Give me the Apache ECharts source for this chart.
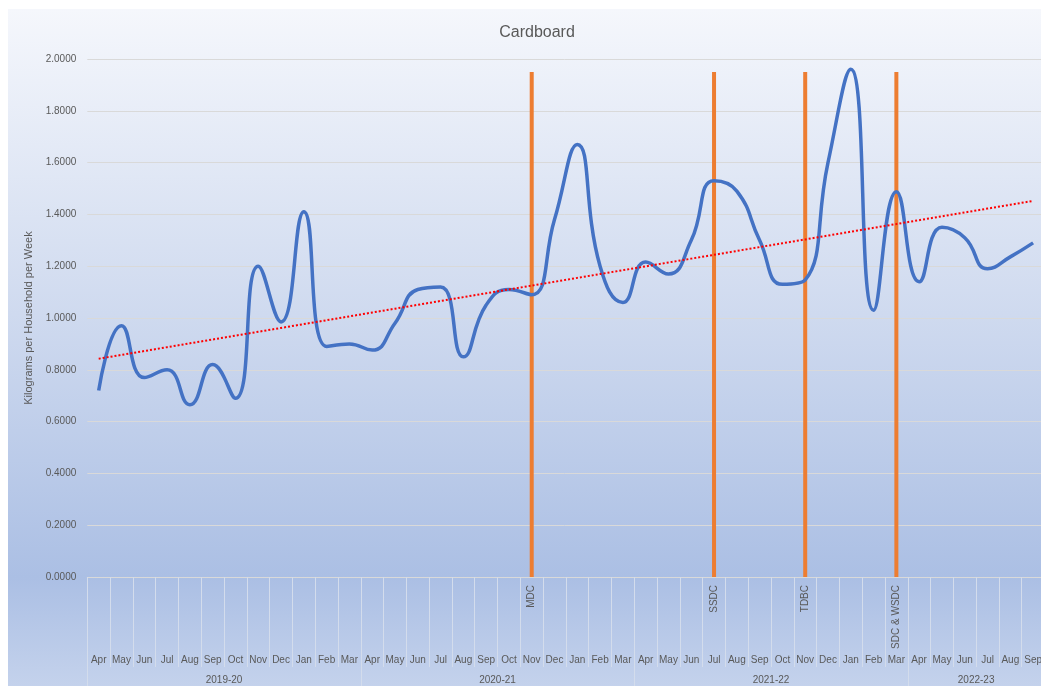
<!DOCTYPE html>
<html>
<head>
<meta charset="utf-8">
<script src="https://cdn.jsdelivr.net/npm/echarts@6/dist/echarts.min.js"></script>
<style>
  html, body { margin: 0; padding: 0; background: #fff; }
  #chart { width: 1041px; height: 686px; }
</style>
</head>
<body>
<div id="chart"></div>
<script>
// month labels, grouped by financial year
const years = ["2019-20", "2020-21", "2021-22", "2022-23"];
const monthsPerYear = [12, 12, 12, 6];
const months = [
  "Apr", "May", "Jun", "Jul", "Aug", "Sep", "Oct", "Nov", "Dec", "Jan", "Feb", "Mar",
  "Apr", "May", "Jun", "Jul", "Aug", "Sep", "Oct", "Nov", "Dec", "Jan", "Feb", "Mar",
  "Apr", "May", "Jun", "Jul", "Aug", "Sep", "Oct", "Nov", "Dec", "Jan", "Feb", "Mar",
  "Apr", "May", "Jun", "Jul", "Aug", "Sep"
];
// kg per household per week
const cardboard = [
  0.72, 0.97, 0.77, 0.80, 0.665, 0.82, 0.69, 1.20, 0.985, 1.41, 0.89, 0.90,
  0.876, 0.98, 1.11, 1.12, 0.85, 1.05, 1.11, 1.09, 1.38, 1.67, 1.20, 1.06,
  1.216, 1.17, 1.30, 1.53, 1.49, 1.30, 1.13, 1.147, 1.60, 1.96, 1.03, 1.487,
  1.14, 1.35, 1.31, 1.19, 1.236, 1.29
];
// council changes (marker bars)
const eventIndex = [19, 27, 31, 35];
const eventNames = ["MDC", "SSDC", "TDBC", "SDC & WSDC"];
const eventHeight = 1.95;

// build helpers
const cats = months.map((m, i) => i + "");
const eventLabels = months.map(() => "");
const eventBars = months.map(() => null);
eventIndex.forEach((idx, k) => {
  eventLabels[idx] = eventNames[k];
  eventBars[idx] = eventHeight;
});

// year boundaries / label slots (boundaryGap false axis, 43 slots)
const yearStart = [];
const yearMid = {};
let acc = 0;
monthsPerYear.forEach((n, k) => {
  yearStart.push(acc);
  yearMid[acc + n / 2] = years[k];
  acc += n;
});
yearStart.push(acc);
const yearSlots = [];
for (let i = 0; i <= months.length; i++) yearSlots.push("s" + i);

// least squares trend line
function trendOf(arr) {
  const n = arr.length;
  let sx = 0, sy = 0, sxx = 0, sxy = 0;
  arr.forEach((y, x) => { sx += x; sy += y; sxx += x * x; sxy += x * y; });
  const b = (n * sxy - sx * sy) / (n * sxx - sx * sx);
  const a = (sy - b * sx) / n;
  return arr.map((y, x) => +(a + b * x).toFixed(4));
}
const trend = trendOf(cardboard);

const txt = "#595959";
const lineCol = "#d9d9d9";
const sepCol = "#d3dcec";
const font = "'Liberation Sans', Arial, sans-serif";

const chart = echarts.init(document.getElementById("chart"));
chart.setOption({
  backgroundColor: "#fff",
  animation: false,
  textStyle: { fontFamily: font },
  graphic: [{
    type: "rect",
    left: 8, top: 9, z: -10,
    shape: { width: 1033, height: 677 },
    style: {
      fill: new echarts.graphic.LinearGradient(0, 0, 0, 1, [
        { offset: 0, color: "#f5f7fc" },
        { offset: 0.45, color: "#cfdaef" },
        { offset: 0.84, color: "#abbfe4" },
        { offset: 1, color: "#c4d2ec" }
      ])
    }
  }],
  title: {
    text: "Cardboard",
    left: 532, top: 20, textAlign: "center",
    textStyle: { fontSize: 16, fontWeight: "normal", color: txt, fontFamily: font }
  },
  grid: {
    left: 87.3, top: 59, width: 957.2, height: 518,
    containLabel: false, outerBoundsMode: "none"
  },
  xAxis: [
    {
      type: "category", data: cats, position: "bottom",
      axisLine: { lineStyle: { color: lineCol, width: 1 } },
      axisTick: { show: true, length: 90, lineStyle: { color: sepCol } },
      axisLabel: {
        interval: 0, margin: 78, fontSize: 10, color: txt,
        formatter: (v) => months[+v]
      },
      splitLine: { show: false }
    },
    {
      type: "category", data: cats, position: "bottom",
      axisLine: { show: false }, axisTick: { show: false },
      axisLabel: {
        interval: 0, rotate: 90, margin: 8, fontSize: 10, color: txt,
        formatter: (v) => eventLabels[+v]
      }
    },
    {
      type: "category", data: yearSlots, position: "bottom", boundaryGap: false,
      axisLine: { show: false },
      axisTick: {
        show: true, length: 112, lineStyle: { color: sepCol },
        interval: (i) => yearStart.indexOf(i) >= 0
      },
      axisLabel: {
        interval: 0, margin: 98, fontSize: 10, color: txt,
        formatter: (v, i) => yearMid[i] || ""
      }
    }
  ],
  yAxis: {
    type: "value", min: 0, max: 2, interval: 0.2,
    name: "Kilograms per Household per Week",
    nameLocation: "middle", nameGap: 51,
    nameTextStyle: { fontSize: 11, color: txt, fontFamily: font },
    axisLine: { show: false }, axisTick: { show: false },
    axisLabel: { fontSize: 10, color: txt, margin: 11, formatter: (v) => v.toFixed(4) },
    splitLine: { lineStyle: { color: lineCol, width: 1 } }
  },
  series: [
    {
      name: "Events", type: "bar", xAxisIndex: 0,
      data: eventBars, barWidth: 4,
      itemStyle: { color: "#ED7D31" }, z: 2
    },
    {
      name: "Cardboard", type: "line", xAxisIndex: 0,
      data: cardboard, smooth: 0.5, showSymbol: false,
      lineStyle: { color: "#4472C4", width: 3.5 }, z: 3
    },
    {
      name: "Trend", type: "line", xAxisIndex: 0,
      data: trend, showSymbol: false,
      lineStyle: { color: "#ff0000", width: 2, type: [2, 2] }, z: 4
    }
  ]
});
</script>
</body>
</html>
